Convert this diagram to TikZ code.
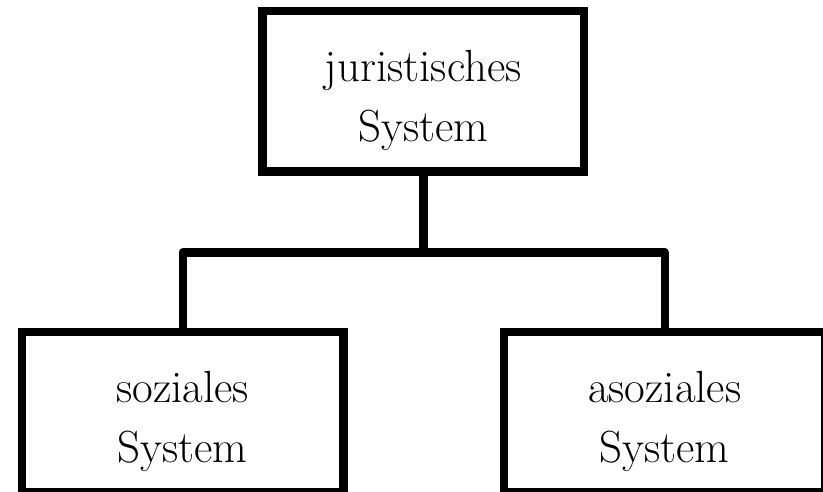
\documentclass[tikz,border=0pt]{standalone}
\usepackage{fontspec}
\def\lift{\rule{0pt}{50pt}}
\colorlet{box edge}{black}
\tikzset{system/.style={rectangle, draw=box edge, line width=8.5pt,
        minimum width=321.5pt, minimum height=160.5pt, inner sep=0pt,
        align=center, font=\fontsize{45}{60}\selectfont},
    link/.style={draw=box edge, line width=8.5pt, line join=round}}

\begin{document}
\begin{tikzpicture}[x=1pt, y=-1pt]
    \useasboundingbox (0,0) rectangle (823,491);

    \node[system] (juristic) at (423.25, 91.25) {\lift juristisches\\System};
    \node[system] (social) at (182.75, 412.25) {\lift soziales\\System};
    \node[system] (asocial) at (664.75, 412.25) {\lift asoziales\\System};

    \coordinate (fork) at (423.25, 252.5);
    \draw[link] (juristic.south) -- (fork);
    \draw[link] (social.north) |- (fork) -| (asocial.north);
%    \node at (current bounding box.center) {};
\end{tikzpicture}
\end{document}
